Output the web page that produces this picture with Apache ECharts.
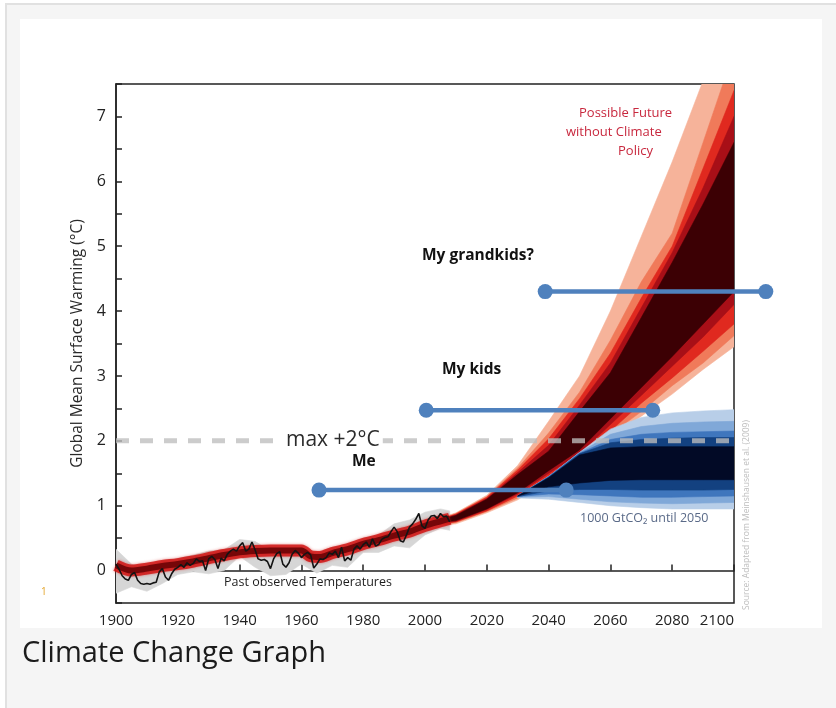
<!DOCTYPE html>
<html>
<head>
<meta charset="utf-8">
<script src="https://cdn.jsdelivr.net/npm/echarts@6/dist/echarts.min.js"></script>
<style>
html,body{margin:0;padding:0;background:#ffffff;}
#chart{width:836px;height:708px;}
</style>
</head>
<body>
<div id="chart"></div>
<script>
// ---------- DATA ----------
// observed annual temperatures 1900..2008
const obsStartYear = 1900;
const obsValues = [
 0.10, 0.02,-0.08,-0.13,-0.15,-0.06,-0.03,-0.15,-0.20,-0.21,
-0.20,-0.21,-0.19,-0.18,-0.02, 0.03,-0.10,-0.15,-0.05, 0.02,
 0.05, 0.09, 0.05, 0.12, 0.08, 0.11, 0.18, 0.14, 0.15, 0.00,
 0.18, 0.22, 0.17, 0.03, 0.19, 0.15, 0.25, 0.30, 0.33, 0.30,
 0.38, 0.43, 0.30, 0.33, 0.44, 0.32, 0.18, 0.16, 0.17, 0.14,
 0.03, 0.18, 0.26, 0.29, 0.10, 0.05, 0.12, 0.25, 0.31, 0.27,
 0.20, 0.25, 0.28, 0.24, 0.04, 0.10, 0.18, 0.17, 0.20, 0.27,
 0.25, 0.30, 0.20, 0.36, 0.15, 0.20, 0.16, 0.33, 0.38, 0.33,
 0.40, 0.44, 0.36, 0.49, 0.38, 0.40, 0.48, 0.51, 0.52, 0.60,
 0.67, 0.60, 0.46, 0.44, 0.55, 0.67, 0.72, 0.79, 0.88, 0.69,
 0.65, 0.78, 0.84, 0.85, 0.80, 0.88, 0.83, 0.84, 0.75
];
// observational uncertainty (grey band)
const greyYears = [1900,1905,1910,1915,1920,1925,1930,1935,1940,1945,1950,1955,1960,1965,1970,1975,1980,1985,1990,1995,2000,2005,2008];
const greyUpper = [0.33,0.10,0.00,0.15,0.18,0.24,0.30,0.32,0.48,0.45,0.30,0.33,0.36,0.26,0.36,0.36,0.50,0.55,0.72,0.78,0.90,0.95,0.92];
const greyLower = [-0.35,-0.25,-0.32,-0.20,-0.06,-0.02,-0.05,0.00,0.22,0.05,-0.08,-0.06,0.10,-0.04,0.08,0.05,0.28,0.28,0.38,0.35,0.55,0.65,0.62];
// modelled historical warming (red band centre)
const histYears = [1900,1905,1910,1915,1920,1925,1930,1935,1940,1945,1950,1955,1960,1963,1966,1970,1975,1980,1985,1990,1995,2000,2005,2008];
const histMid   = [0.08,0.00,0.03,0.07,0.10,0.14,0.19,0.24,0.28,0.30,0.31,0.31,0.31,0.22,0.21,0.27,0.33,0.41,0.47,0.54,0.60,0.69,0.76,0.80];
// future without climate policy (red fan)
const fanYears = [2005,2010,2020,2030,2040,2050,2060,2070,2080,2090,2100];
const redPeachLo  = [0.70,0.72,0.89,1.09,1.40,1.72,2.05,2.38,2.72,3.10,3.45];
const redPeachHi  = [0.81,0.89,1.16,1.62,2.30,3.00,4.00,5.15,6.30,7.55,8.80];
const redOrangeLo = [0.71,0.74,0.91,1.12,1.43,1.74,2.10,2.45,2.85,3.20,3.62];
const redOrangeHi = [0.80,0.88,1.14,1.58,2.12,2.75,3.55,4.45,5.20,6.60,8.00];
const redRedLo    = [0.72,0.75,0.92,1.15,1.46,1.76,2.15,2.58,2.97,3.38,3.80];
const redRedHi    = [0.79,0.87,1.13,1.55,2.03,2.65,3.35,4.20,5.00,6.20,7.40];
const redDarkLo   = [0.73,0.76,0.94,1.18,1.50,1.80,2.25,2.70,3.15,3.60,4.10];
const redDarkHi   = [0.79,0.86,1.11,1.51,1.93,2.55,3.20,4.05,4.90,5.90,7.00];
const redCoreLo   = [0.74,0.77,0.95,1.20,1.54,1.86,2.34,2.82,3.30,3.80,4.30];
const redCoreHi   = [0.78,0.85,1.10,1.48,1.84,2.45,3.05,3.90,4.75,5.65,6.60];
// 1000 GtCO2 until 2050 (blue fan)
const blueYears = [2030,2040,2050,2060,2070,2080,2090,2100];
const blue1Hi = [1.15,1.45,1.82,2.18,2.36,2.43,2.46,2.48];
const blue1Lo = [1.12,1.10,1.05,1.00,0.97,0.95,0.95,0.95];
const blue2Hi = [1.15,1.45,1.82,2.10,2.22,2.27,2.29,2.30];
const blue2Lo = [1.13,1.14,1.10,1.06,1.04,1.03,1.04,1.05];
const blue3Hi = [1.15,1.45,1.81,2.02,2.10,2.13,2.14,2.15];
const blue3Lo = [1.14,1.18,1.17,1.15,1.13,1.13,1.14,1.15];
const blue4Hi = [1.15,1.44,1.80,1.97,2.02,2.04,2.05,2.05];
const blue4Lo = [1.14,1.23,1.25,1.25,1.24,1.24,1.24,1.25];
const blue5Hi = [1.15,1.43,1.78,1.89,1.91,1.91,1.91,1.91];
const blue5Lo = [1.15,1.29,1.35,1.39,1.40,1.40,1.40,1.40];
// 2 degree limit and life-span markers
const limitYears = [1900, 2100];
const limitValue = 2;
const meSpan = [1965.7, 2045.7];        const meLevel = 1.24;
const kidsSpan = [2000.4, 2073.7];      const kidsLevel = 2.47;
const grandkidsSpan = [2038.9, 2110.3]; const grandkidsLevel = 4.30;

// ---------- CHART ----------
const FONT = '"Open Sans", "DejaVu Sans", sans-serif';
const chart = echarts.init(document.getElementById('chart'), null, {renderer:'canvas'});

// a filled band between lo and hi, drawn as one polygon through the axes' scales
function band(name, xs, lo, hi, color) {
  return {type:'custom', name:name, clip:true, silent:true, animation:false,
    data: xs.map((x,i)=>[x, lo[i], hi[i]]),
    encode:{x:0, y:[1,2]},
    renderItem: function(params, api) {
      if (params.dataIndex !== 0) return null;
      const up = xs.map((x,i)=>api.coord([x, hi[i]]));
      const dn = xs.map((x,i)=>api.coord([x, lo[i]])).reverse();
      return {type:'polygon', shape:{points: up.concat(dn)}, style:{fill:color, stroke:color, lineWidth:0.6}};
    }};
}
// a horizontal life-span bar with round end markers
function span(name, xs, level) {
  return {type:'custom', name:name, clip:false, silent:true, animation:false, z:6,
    data: xs.map(x=>[x, level]), encode:{x:0, y:1},
    renderItem: function(params, api) {
      if (params.dataIndex !== 0) return null;
      const a = api.coord([xs[0], level]), b = api.coord([xs[1], level]);
      const c = '#4f81bd';
      return {type:'group', children:[
        {type:'line', shape:{x1:a[0], y1:a[1], x2:b[0], y2:b[1]}, style:{stroke:c, lineWidth:4.5}},
        {type:'circle', shape:{cx:a[0], cy:a[1], r:7.5}, style:{fill:c}},
        {type:'circle', shape:{cx:b[0], cy:b[1], r:7.5}, style:{fill:c}}
      ]};
    }};
}

const series = [
  band('grey', greyYears, greyLower, greyUpper, '#d6d6d6'),
  {type:'line', name:'model-hist-halo', data: histYears.map((x,i)=>[x,histMid[i]]), symbol:'none', smooth:0.3, silent:true,
     lineStyle:{width:12, color:'rgba(208,24,22,0.85)', shadowBlur:3, shadowColor:'rgba(208,24,22,0.6)'}},
  {type:'line', name:'model-hist', data: histYears.map((x,i)=>[x,histMid[i]]), symbol:'none', smooth:0.3, silent:true,
     lineStyle:{width:6, color:'#760608'}},
  band('redPeach', fanYears, redPeachLo, redPeachHi, '#f6b39a'),
  band('redOrange', fanYears, redOrangeLo, redOrangeHi, '#f07a5a'),
  band('redRed', fanYears, redRedLo, redRedHi, '#e0291f'),
  band('redDark', fanYears, redDarkLo, redDarkHi, '#a80f17'),
  band('redCore', fanYears, redCoreLo, redCoreHi, '#3c0004'),
  {type:'line', name:'observed', data: obsValues.map((v,i)=>[obsStartYear+i, v]), symbol:'none', silent:true, z:3,
     lineStyle:{width:1.6, color:'#141414'}},
  band('blue1', blueYears, blue1Lo, blue1Hi, '#b8cee8'),
  band('blue2', blueYears, blue2Lo, blue2Hi, '#80a8d8'),
  band('blue3', blueYears, blue3Lo, blue3Hi, '#3f76bd'),
  band('blue4', blueYears, blue4Lo, blue4Hi, '#134180'),
  band('blue5', blueYears, blue5Lo, blue5Hi, '#020a26'),
  {type:'line', name:'limit', data: limitYears.map(x=>[x, limitValue]), symbol:'none', silent:true, z:4,
     lineStyle:{width:5, type:[13,11], color:'rgba(190,190,190,0.78)'}},
  span('Me', meSpan, meLevel),
  span('My kids', kidsSpan, kidsLevel),
  span('My grandkids?', grandkidsSpan, grandkidsLevel)
];

function txt(text, x, y, font, fill, align, extra) {
  return {type:'text', x:x, y:y, z:100, silent:true,
    style: Object.assign({text:text, font:font, fill:fill, align:align||'left', textAlign:align||'left',
      verticalAlign:'middle', textVerticalAlign:'middle'}, extra||{})};
}

const option = {
  animation:false,
  backgroundColor:'#ffffff',
  textStyle:{fontFamily:FONT},
  grid:{left:116, right:102, top:84, bottom:105, show:true, borderColor:'#222', borderWidth:1.5, backgroundColor:'transparent'},
  xAxis:{type:'value', min:1900, max:2100, interval:20,
    axisLine:{show:true, lineStyle:{color:'#222', width:1.5}},
    axisTick:{show:true, inside:true, length:6, lineStyle:{color:'#222', width:1.5}},
    axisLabel:{color:'#222', fontSize:15, fontFamily:FONT, margin:10, alignMaxLabel:'right', formatter:v=>String(v)},
    splitLine:{show:false}},
  yAxis:{type:'value', min:-0.5, max:7.5, interval:0.5,
    name:'Global Mean Surface Warming (°C)', nameLocation:'middle', nameGap:26, nameRotate:90,
    nameTextStyle:{color:'#2a2a2a', fontSize:15.5, fontFamily:FONT},
    axisLine:{show:true, lineStyle:{color:'#222', width:1.5}},
    axisTick:{show:true, inside:true, length:6, lineStyle:{color:'#222', width:1.5}},
    axisLabel:{color:'#222', fontSize:16, fontFamily:FONT, margin:10,
      formatter:v=> (Math.abs(v - Math.round(v)) < 1e-9 ? String(Math.round(v)) : '')},
    splitLine:{show:false}},
  series: series,
  graphic:{elements:[
    {type:'rect', z:-10, silent:true, shape:{x:6, y:4, width:840, height:720}, style:{fill:'#f5f5f5', stroke:'#e1e1e1', lineWidth:2}},
    {type:'rect', z:-9, silent:true, shape:{x:20, y:19, width:802, height:609}, style:{fill:'#ffffff'}},
    txt('Possible Future', 579, 113, '13px '+FONT, '#c8283e'),
    txt('without Climate', 566, 132, '13px '+FONT, '#c8283e'),
    txt('Policy', 618, 151, '13px '+FONT, '#c8283e'),
    txt('My grandkids?', 422, 256, 'bold 15.5px '+FONT, '#111'),
    txt('My kids', 442, 370, 'bold 15.5px '+FONT, '#111'),
    txt('Me', 352, 462, 'bold 15.5px '+FONT, '#111'),
    txt('max +2°C', 284, 440, '21px '+FONT, '#2b2b2b', 'left', {backgroundColor:'#ffffff', padding:[0,3,0,2]}),
    txt('Past observed Temperatures', 224, 582, '12.5px '+FONT, '#1e1e1e'),
    txt('1000 GtCO₂ until 2050', 580, 518, '12.5px '+FONT, '#5a6a88'),
    {type:'text', x:747, y:515, rotation:Math.PI/2, z:100, silent:true,
      style:{text:'Source: Adapted from Meinshausen et al. (2009)', font:'8.5px '+FONT, fill:'#bdbdbd',
        align:'center', textAlign:'center', verticalAlign:'middle', textVerticalAlign:'middle'}},
    txt('1', 41, 592, '10px '+FONT, '#e3a52a'),
    txt('Climate Change Graph', 22, 654, '29px '+FONT, '#1b1b1b')
  ]}
};
chart.setOption(option);
</script>
</body>
</html>
